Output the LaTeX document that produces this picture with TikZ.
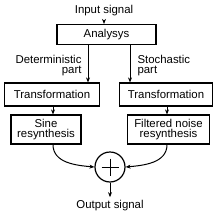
\documentclass[tikz,border=0pt]{standalone}
\usepackage{fontspec}
\setmainfont{Liberation Sans}
\usetikzlibrary{arrows.meta}

\begin{document}
\begin{tikzpicture}[x=1pt, y=-1pt, font=\fontsize{11.4}{12.6}\selectfont,
  blockbox/.style={draw=black, line width=1.2pt, fill=white, inner sep=1pt, align=center},
  flow/.style={line width=1pt, -{Stealth[length=5pt, width=4pt]}}]
  \useasboundingbox (0,0) rectangle (220,220);
  % blocks
  \node (insig) at (104,11) {Input signal};
  \node[blockbox, minimum width=99pt, minimum height=20pt] (ana) at (106.5,34.5) {Analysys};
  \node[blockbox, minimum width=95pt, minimum height=23pt] (ltrans) at (52,94.5) {Transformation};
  \node[blockbox, minimum width=93pt, minimum height=23pt] (rtrans) at (166,94.5) {Transformation};
  \node[blockbox, minimum width=70pt, minimum height=29pt] (sine) at (46,129.5) {Sine\\[-2pt]resynthesis};
  \node[blockbox, minimum width=82pt, minimum height=29pt] (noise) at (168.5,129.5) {Filtered noise\\[-2pt]resynthesis};
  \node[draw=black, line width=1.2pt, circle, minimum size=30pt, inner sep=0pt] (sum) at (110,167) {};
  \node (outsig) at (110,206) {Output signal};
  % labels
  \node[align=right, anchor=east] (detlab) at (85,65.5) {Deterministic\\[-2pt]part};
  \node[align=left, anchor=west] (stolab) at (134,65.5) {Stochastic\\[-2pt]part};
  % columns of the arrows
  \coordinate (dcol) at (88,0);
  \coordinate (scol) at (130,0);
  \coordinate (lcol) at (53,0);
  \coordinate (rcol) at (167,0);
  % connectors
  \draw[flow] (insig.south) -- (ana.north -| insig.south);
  \draw[flow] (ana.south -| dcol) -- (ltrans.north -| dcol);
  \draw[flow] (ana.south -| scol) -- (rtrans.north -| scol);
  \draw[flow] (ltrans.south -| lcol) -- (sine.north -| lcol);
  \draw[flow] (rtrans.south -| rcol) -- (noise.north -| rcol);
  \draw[flow] (sine.south -| lcol) to[out=-90, in=175] (sum.west);
  \draw[flow] (noise.south -| rcol) to[out=-90, in=5] (sum.east);
  \draw[flow] (sum.south) -- (outsig.north);
  % plus sign
  \draw[line width=1pt] (sum.center) +(-8.5,0) -- +(8.5,0);
  \draw[line width=1pt] (sum.center) +(0,-8.5) -- +(0,8.5);
\end{tikzpicture}
\end{document}
